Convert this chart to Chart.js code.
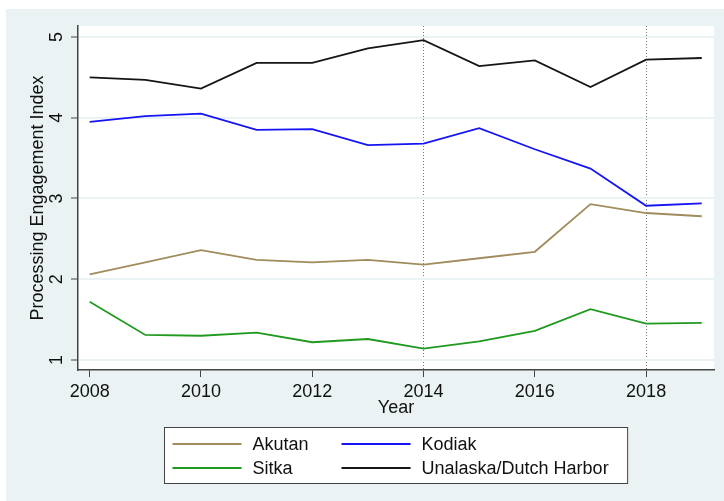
<!DOCTYPE html>
<html lang="en">
  <head>
    <meta charset="UTF-8" />
    <title>Processing Engagement Index</title>
    <style>
      html, body { margin: 0; background: #fff; }
      #wrap { width: 724px; height: 501px; }
    </style>
  </head>
  <body>
    <div id="wrap"><canvas id="chart"></canvas></div>
    <script src="https://cdn.jsdelivr.net/npm/chart.js"></script>
    <script>
      const years = [2008, 2009, 2010, 2011, 2012, 2013, 2014, 2015, 2016, 2017, 2018, 2019];
      const akutan = [2.06, 2.21, 2.36, 2.24, 2.21, 2.24, 2.18, 2.26, 2.34, 2.93, 2.82, 2.78];
      const kodiak = [3.95, 4.02, 4.05, 3.85, 3.86, 3.66, 3.68, 3.87, 3.61, 3.37, 2.91, 2.94];
      const sitka = [1.72, 1.31, 1.30, 1.34, 1.22, 1.26, 1.14, 1.23, 1.36, 1.63, 1.45, 1.46];
      const unalaska = [4.50, 4.47, 4.36, 4.68, 4.68, 4.86, 4.96, 4.64, 4.71, 4.38, 4.72, 4.74];

      const xTicks = [2008, 2010, 2012, 2014, 2016, 2018];
      const yTicks = [1, 2, 3, 4, 5];
      const markedYears = [2014, 2018];

      const BG = "#eaf2f3";
      const AXIS = "#444";
      const FONT = "'Liberation Sans', Arial, sans-serif";
      Chart.defaults.font.family = FONT;
      Chart.defaults.font.size = 18;
      Chart.defaults.color = "#111";

      const points = (vals) => years.map((yr, i) => ({ x: yr, y: vals[i] }));

      // stata-ish backdrop: white margin, bluish-gray graph region, white plot region
      const backdrop = {
        id: "backdrop",
        beforeDraw(chart) {
          const { ctx, width, height, chartArea: a } = chart;
          ctx.save();
          ctx.fillStyle = "#fff";
          ctx.fillRect(0, 0, width, height);
          ctx.fillStyle = BG;
          ctx.fillRect(6, 9, width - 6, height - 9);
          ctx.fillStyle = "#fff";
          ctx.fillRect(a.left, a.top, a.right - a.left, a.bottom - a.top);
          ctx.restore();
        },
      };

      // two-column boxed legend under the plot
      const boxLegend = {
        id: "boxLegend",
        afterDraw(chart) {
          const { ctx, chartArea: a } = chart;
          const sets = chart.data.datasets;
          ctx.save();
          ctx.font = `18px ${FONT}`;
          const sample = 69, gap = 11, colGap = 33, padL = 8, padR = 19;
          const col1 = Math.max(...[0, 2].map((i) => ctx.measureText(sets[i].label).width));
          const col2 = Math.max(...[1, 3].map((i) => ctx.measureText(sets[i].label).width));
          const w = padL + sample + gap + col1 + colGap + sample + gap + col2 + padR;
          const left = Math.round((a.left + a.right) / 2 - w / 2) + 0.5;
          const top = Math.round(a.bottom) + 57.5;
          ctx.fillStyle = "#fff";
          ctx.fillRect(left, top, w, 56);
          ctx.strokeStyle = AXIS;
          ctx.lineWidth = 1;
          ctx.strokeRect(left, top, w, 56);
          ctx.textBaseline = "middle";
          sets.forEach((ds, i) => {
            const col = i % 2;
            const row = Math.floor(i / 2);
            const x0 = left + padL + (col ? sample + gap + col1 + colGap : 0);
            const y = top + 16.5 + row * 24;
            ctx.strokeStyle = ds.borderColor;
            ctx.lineWidth = 1.8;
            ctx.beginPath();
            ctx.moveTo(x0, y);
            ctx.lineTo(x0 + sample, y);
            ctx.stroke();
            ctx.fillStyle = "#111";
            ctx.fillText(ds.label, x0 + sample + gap, y + 1);
          });
          ctx.restore();
        },
      };

      new Chart(document.getElementById("chart"), {
        type: "line",
        data: {
          datasets: [
            { label: "Akutan", data: points(akutan), borderColor: "#a08c5c" },
            { label: "Kodiak", data: points(kodiak), borderColor: "#1414f5" },
            { label: "Sitka", data: points(sitka), borderColor: "#1f9a1f" },
            { label: "Unalaska/Dutch Harbor", data: points(unalaska), borderColor: "#151515" },
          ],
        },
        options: {
          responsive: true,
          maintainAspectRatio: false,
          animation: false,
          layout: { padding: { left: 0, right: 10, top: 26, bottom: 81 } },
          elements: {
            point: { radius: 0 },
            line: { borderWidth: 1.8, tension: 0, fill: false },
          },
          plugins: { legend: { display: false }, tooltip: { enabled: false } },
          scales: {
            x: {
              type: "linear",
              min: 2007.79,
              max: 2019.22,
              afterBuildTicks: (s) => { s.ticks = xTicks.map((v) => ({ value: v })); },
              afterFit: (s) => { s.height = 50; },
              ticks: { padding: 4, maxRotation: 0, callback: (v) => String(v) },
              grid: {
                color: (c) => (c.tick && markedYears.includes(c.tick.value) ? "#777" : "rgba(0,0,0,0)"),
                lineWidth: 1,
                tickColor: AXIS,
                tickLength: 7,
                tickWidth: 1,
              },
              border: { color: AXIS, width: 1.5, dash: [1, 2] },
              title: { display: true, text: "Year", padding: { top: 0, bottom: 1 } },
            },
            y: {
              min: 0.876,
              max: 5.136,
              afterBuildTicks: (s) => { s.ticks = yTicks.map((v) => ({ value: v })); },
              afterFit: (s) => { s.width = 78; },
              ticks: { minRotation: 90, maxRotation: 90, crossAlign: "center", padding: 9 },
              grid: { color: BG, lineWidth: 2, tickColor: AXIS, tickLength: 7, tickWidth: 1 },
              border: { color: AXIS, width: 1.5 },
              title: {
                display: true,
                text: "Processing Engagement Index",
                padding: { top: 27, bottom: 0 },
              },
            },
          },
        },
        plugins: [backdrop, boxLegend],
      });
    </script>
  </body>
</html>
